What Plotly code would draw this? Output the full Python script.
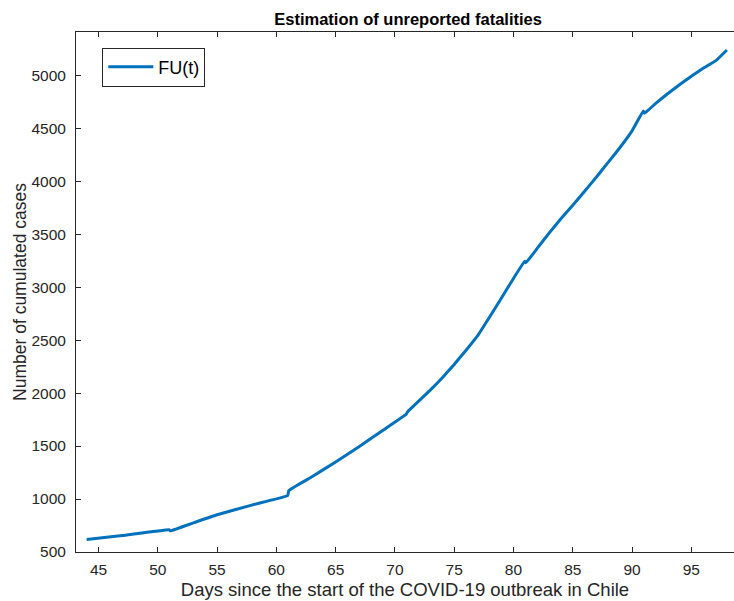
import plotly.graph_objects as go

days = [44, 47, 50.95, 51.05, 53, 55, 58, 60.95, 61.05, 63, 65, 67, 69, 70.95, 71.05, 73, 74, 75, 76,
        77, 78, 79, 80, 80.95, 81.05, 82, 83, 84, 85, 86, 87, 88, 89, 90, 90.95, 91.05, 92, 93, 94,
        95, 96, 97.1, 98]
fu = [618, 655, 710, 700, 775, 852, 945, 1033, 1080, 1210, 1350, 1496, 1650, 1800, 1820, 2030, 2145,
      2270, 2405, 2545, 2720, 2900, 3082, 3245, 3230, 3365, 3510, 3645, 3772, 3905, 4040, 4180,
      4320, 4475, 4662, 4640, 4735, 4825, 4910, 4990, 5065, 5140, 5238]

x_ticks = [45, 50, 55, 60, 65, 70, 75, 80, 85, 90, 95]
y_ticks = [500, 1000, 1500, 2000, 2500, 3000, 3500, 4000, 4500, 5000]

fig = go.Figure()
fig.add_trace(go.Scatter(x=days, y=fu, mode="lines", name="FU(t)", line_shape="spline",
                         line=dict(color="#0072BD", width=3, smoothing=0.3)))

font_family = "Liberation Sans, Arial, Helvetica, sans-serif"
fig.update_layout(
    width=734, height=601,
    margin=dict(l=76, r=0, t=32, b=49, autoexpand=False),
    paper_bgcolor="white", plot_bgcolor="white",
    font=dict(family=font_family, color="#262626"),
    title=dict(text="<b>Estimation of unreported fatalities</b>", x=0.556, xanchor="center",
               y=0.968, yanchor="middle", font=dict(size=16.5, color="black")),
    showlegend=True,
    legend=dict(x=0.04, y=0.97, xanchor="left", yanchor="top",
                bordercolor="#262626", borderwidth=1, bgcolor="white",
                font=dict(size=18, color="black"), itemwidth=45),
)
fig.update_xaxes(range=[43.1, 98.6], tickvals=x_ticks, ticks="inside", ticklen=5,
                 tickcolor="#262626", showline=True, linecolor="#262626", linewidth=1,
                 mirror="ticks", showgrid=False, zeroline=False, automargin=False,
                 tickfont=dict(size=15.5), ticklabelstandoff=3,
                 title=dict(text="Days since the start of the COVID-19 outbreak in Chile",
                            font=dict(size=18.5), standoff=6))
fig.update_yaxes(range=[500, 5408], tickvals=y_ticks, ticks="inside", ticklen=5,
                 tickcolor="#262626", showline=True, linecolor="#262626", linewidth=1,
                 mirror=False, showgrid=False, zeroline=False, automargin=False,
                 tickfont=dict(size=15.5), ticklabelstandoff=6,
                 title=dict(text="Number of cumulated cases", font=dict(size=17.5), standoff=0))

fig.write_html("out.html", config={"displayModeBar": False},
               post_script="document.body.style.margin='0';document.body.style.overflow='hidden';")
